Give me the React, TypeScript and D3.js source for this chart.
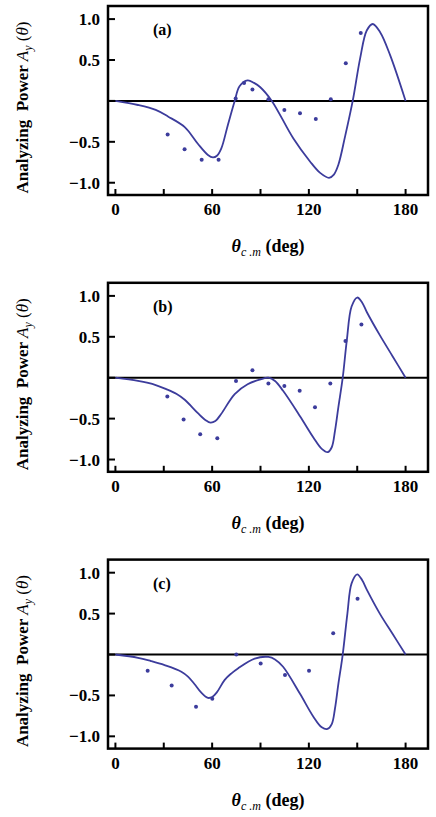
import React from 'react'
import * as d3 from 'd3'

// angles (deg) and analyzing power values
const panelLabels = ['(a)', '(b)', '(c)']

const curveA: [number, number][] = [
  [0, 0], [14, -0.05], [25, -0.11], [32.6, -0.19], [43, -0.32], [51, -0.52], [57.4, -0.66],
  [60.5, -0.69], [63, -0.67], [65.7, -0.58], [69.8, -0.29], [74, 0], [77, 0.18], [82, 0.25],
  [86, 0.22], [89.7, 0.17], [97, 0], [110.4, -0.46], [120.7, -0.74], [127, -0.88],
  [132.5, -0.94], [135.5, -0.9], [138.3, -0.78], [142.5, -0.43], [147.2, 0], [151.8, 0.52],
  [155.9, 0.86], [159.6, 0.94], [164.2, 0.84], [170.4, 0.56], [180, 0],
]
const curveB: [number, number][] = [
  [0, 0], [14, -0.04], [25, -0.09], [31.5, -0.14], [38, -0.2], [43, -0.27], [51, -0.43],
  [56, -0.52], [59, -0.55], [62, -0.53], [65.7, -0.44], [74, -0.2], [82, -0.08], [90, -0.02],
  [94.9, 0], [99, -0.04], [104, -0.16], [114.5, -0.47], [122.8, -0.73], [128, -0.87],
  [131.7, -0.91], [134.2, -0.85], [136.2, -0.65], [138.3, -0.36], [141, 0], [143.5, 0.45],
  [146.5, 0.87], [150, 0.98], [153, 0.92], [156, 0.8], [164, 0.52], [172, 0.26], [180, 0],
]
const curveC: [number, number][] = [
  [0, 0], [14, -0.04], [22, -0.08], [30.5, -0.13], [40.9, -0.21], [45, -0.27], [49, -0.36],
  [53, -0.46], [57.4, -0.53], [60, -0.52], [63, -0.46], [67.8, -0.31], [72, -0.23], [76, -0.17],
  [86.4, -0.05], [94.9, -0.03], [99, -0.06], [104, -0.15], [114.5, -0.48], [122.8, -0.76],
  [128, -0.89], [131.5, -0.91], [134.2, -0.85], [136.2, -0.66], [138.3, -0.36], [141, 0],
  [143.9, 0.5], [146.5, 0.87], [150, 0.98], [153, 0.91], [156, 0.79], [164, 0.5],
  [172, 0.25], [180, 0],
]

const pointsA: [number, number][] = [
  [32.4, -0.41], [42.9, -0.59], [53.5, -0.72], [64, -0.72], [74.6, 0.03], [79.8, 0.22],
  [85, 0.14], [94.9, 0.02], [104.8, -0.11], [114.5, -0.15], [124.3, -0.22], [133.6, 0.02],
  [142.9, 0.46], [152.2, 0.83],
]
const pointsB: [number, number][] = [
  [32.2, -0.23], [42.3, -0.51], [52.6, -0.69], [63.2, -0.74], [74.8, -0.04], [85, 0.09],
  [94.9, -0.07], [104.8, -0.1], [114.3, -0.16], [123.8, -0.36], [133.3, -0.07], [142.7, 0.45],
  [152.6, 0.65],
]
const pointsC: [number, number][] = [
  [20, -0.2], [34.9, -0.38], [50, -0.64], [60.1, -0.54], [75, 0], [90.1, -0.11],
  [105.2, -0.25], [120.1, -0.2], [135.1, 0.26], [150.2, 0.68],
]

const xTicks = [0, 30, 60, 90, 120, 150, 180]
const xTickLabels = [0, 60, 120, 180]
const yTicks = [-1, -0.5, 0, 0.5, 1]
const yTickLabels = [-1, -0.5, 0.5, 1]

const curves = [curveA, curveB, curveC]
const points = [pointsA, pointsB, pointsC]

const W = 436
const H = 817
const PANEL_H = 276.8
const left = 108, right = 428, top = 6, bottom = 195
const blue = '#3c3c9c'
const serif = "'Liberation Serif', 'Times New Roman', serif"

const x = d3.scaleLinear().domain([-4.6, 193.9]).range([left, right])
const y = d3.scaleLinear().domain([-1.15, 1.16]).range([bottom, top])
const line = d3.line<[number, number]>()
  .x(d => x(d[0]))
  .y(d => y(d[1]))
  .curve(d3.curveCatmullRom.alpha(0.5))

const fmt = (v: number) => (v < 0 ? '\u2212' : '') + Math.abs(v).toFixed(1)

const Panel = ({ idx }: { idx: number }) => (
  <g transform={`translate(0,${idx * PANEL_H})`}>
    {/* zero line */}
    <line x1={left} x2={right} y1={y(0)} y2={y(0)} stroke="black" strokeWidth={2} />
    <path d={line(curves[idx]) || ''} fill="none" stroke={blue} strokeWidth={1.8} />
    {points[idx].map((p, i) => (
      <circle key={i} cx={x(p[0])} cy={y(p[1])} r={2} fill={blue} />
    ))}
    {xTicks.map(t => (
      <line key={t} x1={x(t)} x2={x(t)} y1={bottom} y2={bottom - 6} stroke="black" strokeWidth={2} />
    ))}
    {yTicks.map(t => (
      <line key={t} x1={left} x2={left + 7} y1={y(t)} y2={y(t)} stroke="black" strokeWidth={2} />
    ))}
    <rect x={left} y={top} width={right - left} height={bottom - top} fill="none" stroke="black" strokeWidth={2.5} />
    {xTickLabels.map(t => (
      <text key={t} x={x(t)} y={bottom + 20} textAnchor="middle" fontSize={17} fontWeight="bold">{t}</text>
    ))}
    {yTickLabels.map(t => (
      <text key={t} x={left - 8} y={y(t) + 6} textAnchor="end" fontSize={17} fontWeight="bold">{fmt(t)}</text>
    ))}
    <text x={153} y={top + 29} fontSize={16} fontWeight="bold">{panelLabels[idx]}</text>
    <text transform={`translate(28,${(top + bottom) / 2 + 7}) rotate(-90)`} textAnchor="middle" fontSize={17} style={{ whiteSpace: 'pre' }}>
      <tspan fontWeight="bold">Analyzing  Power </tspan>
      <tspan fontStyle="italic">A</tspan>
      <tspan fontStyle="italic" fontSize={12} dy={4}>y</tspan>
      <tspan dy={-4}> (</tspan>
      <tspan fontStyle="italic">θ</tspan>
      <tspan>)</tspan>
    </text>
    <text x={268} y={252} textAnchor="middle" fontSize={18} style={{ whiteSpace: 'pre' }}>
      <tspan fontStyle="italic" fontWeight="bold">θ</tspan>
      <tspan fontStyle="italic" fontSize={12} dy={4}>c .m</tspan>
      <tspan dy={-4} fontWeight="bold"> (deg)</tspan>
    </text>
  </g>
)

export default function App() {
  return (
    <svg width={W} height={H} style={{ position: 'absolute', left: 0, top: 0, background: 'white', fontFamily: serif }}>
      {panelLabels.map((_, i) => <Panel key={i} idx={i} />)}
    </svg>
  )
}
